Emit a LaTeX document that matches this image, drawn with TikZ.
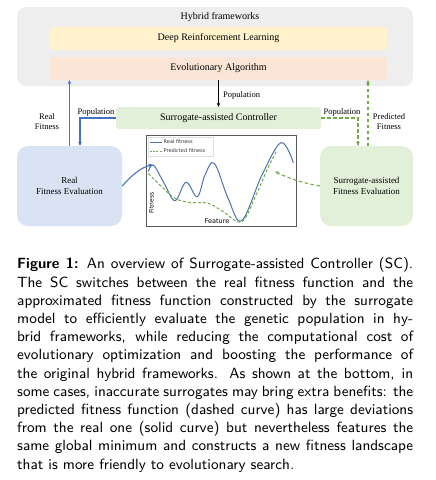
\documentclass[tikz,border=0pt]{standalone}
\usepackage{fontspec}
\setmainfont{Liberation Serif}
\newfontfamily\dejavu{DejaVu Sans}
\newfontfamily\capfont[BoldFont=lmsans10-bold.otf]{lmsans9-regular.otf}
\usetikzlibrary{arrows.meta}
\definecolor{hgray}{HTML}{EEEEEE}
\definecolor{drl}{HTML}{FFF2CC}
\definecolor{eac}{HTML}{FBE5D6}
\definecolor{scg}{HTML}{E2F0D9}
\definecolor{rfb}{HTML}{DAE3F3}
\definecolor{ablue}{HTML}{4472C4}
\definecolor{agreen}{HTML}{70AD47}
\definecolor{cblue}{HTML}{4C72B0}
\definecolor{cgreen}{HTML}{6FA84A}
\tikzset{
  bar/.style={minimum width=337pt, minimum height=23pt, rounded corners=3pt, inner sep=0pt, font=\fontsize{10}{12}\selectfont},
  evalbox/.style={minimum width=105pt, minimum height=80pt, rounded corners=11pt, inner sep=0pt, align=center, font=\fontsize{9}{10.7}\selectfont},
  lbl/.style={font=\fontsize{8.5}{10}\selectfont, inner sep=1pt, align=center},
  bluearrow/.style={draw=ablue, line width=1.1pt, -{Stealth[length=4pt,width=3.5pt]}},
  greenarrow/.style={draw=agreen, line width=1.1pt, dashed, dash pattern=on 3.5pt off 2.5pt, -{Stealth[length=4pt,width=3.5pt]}},
}
\begin{document}
\begin{tikzpicture}[x=1pt,y=-1pt]
\useasboundingbox (0,0) rectangle (436,480);
% hybrid frameworks
\node[fill=hgray, rounded corners=9pt, minimum width=396pt, minimum height=79pt, inner sep=0pt] (hf) at (215,46.5) {};
\node[font=\fontsize{10}{12}\selectfont, inner sep=0pt] (hft) at (220,17) {Hybrid frameworks};
\node[bar, fill=drl] (drl) at (218.5,38.5) {Deep Reinforcement Learning};
\node[bar, fill=eac] (ea) at (218.5,68.5) {Evolutionary Algorithm};
% controller
\node[bar, fill=scg, minimum width=205pt, minimum height=22pt] (sc) at (218.5,118) {Surrogate-assisted Controller};
\draw[-{Stealth[length=4pt,width=3.5pt]}, line width=0.9pt] (ea.south) -- (sc.north);
\node[lbl, anchor=west] (popc) at (222,95) {Population};
% evaluation boxes
\node[evalbox, fill=rfb] (rfe) at (69.5,186) {Real\\Fitness Evaluation};
\node[evalbox, fill=scg, minimum width=93pt] (sae) at (366.5,186) {Surrogate-assisted\\Fitness Evaluation};
% left connectors
\coordinate (lp) at (80,146);
\coordinate (lt) at (69.5,80);
\draw[bluearrow] (rfe.north) -- (lt);
\draw[bluearrow] (sc.west) -| (lp);
\node[lbl] (rft) at (47,121.5) {Real\\Fitness};
\node[lbl] (popl) at (96,112) {Population};
% right connectors
\coordinate (rp) at (358,146);
\coordinate (rs) at (368,146);
\coordinate (rt) at (368,80);
\draw[greenarrow] (sc.east) -| (rp);
\draw[greenarrow] (rs) -- (rt);
\node[lbl] (popr) at (342,112) {Population};
\node[lbl] (pft) at (389,121.5) {Predicted\\Fitness};
% chart
\node[draw=black!65, line width=0.6pt, minimum width=150.5pt, minimum height=90.5pt, inner sep=0pt] (chart) at (221.5,181) {};
\node[draw=black!12, line width=0.4pt, minimum width=65pt, minimum height=19pt, inner sep=0pt] (leg) at (180.5,146.5) {};
\coordinate (l1a) at (150,142); \coordinate (l1b) at (161.5,142);
\coordinate (l2a) at (150,151); \coordinate (l2b) at (161.5,151);
\draw[cblue, line width=0.8pt] (l1a) -- (l1b);
\draw[cgreen, line width=0.8pt, dash pattern=on 2pt off 1.2pt] (l2a) -- (l2b);
\node[anchor=west, inner sep=0pt, font=\dejavu\fontsize{5}{6}\selectfont, text=black!80] (lt1) at (163.5,142) {Real fitness};
\node[anchor=west, inner sep=0pt, font=\dejavu\fontsize{5}{6}\selectfont, text=black!80] (lt2) at (163.5,151) {Predicted fitness};
\node[rotate=90, inner sep=0pt, font=\dejavu\fontsize{6}{7}\selectfont] (fy) at (151.5,203) {Fitness};
\node[inner sep=0pt, font=\dejavu\fontsize{6.5}{7}\selectfont] (fx) at (217,221.5) {Feature};
\draw[cblue, line width=1pt] plot[smooth, tension=0.6] coordinates {(148.3,171.5) (153.5,165.2) (164,183) (175,200.7) (186,182.3) (197.3,196.7) (205,175) (214.3,163.3) (228,198) (241.7,220.7) (262,175) (281,142.7) (293.3,162.7)};
\draw[cgreen, line width=1pt, dash pattern=on 3pt off 2pt] plot[smooth, tension=0.6] coordinates {(148.3,173.5) (162,187) (175,198.3) (190,202.5) (208.3,203.3) (223.3,211.7) (241.7,221.7) (256,195) (267,170) (276.7,150.7)};
% curved arrows
\coordinate (cb) at (152.5,164.5);
\coordinate (cg) at (275,171.5);
\draw[draw=ablue, line width=1.1pt, -{Stealth[length=4pt,width=3.5pt]}] (rfe.east) .. controls (131,176) and (140,168) .. (cb);
\draw[greenarrow] (sae.west) .. controls (302,183) and (288,178) .. (cg);
% caption
\node[anchor=north west, text width=396pt, align=justify, inner sep=0pt, font=\capfont\fontsize{14.8}{18.2}\selectfont] (cap) at (17,257.5) {\textbf{Figure 1:} An overview of Surrogate-assisted Controller (SC).\linebreak
The SC switches between the real fitness function and the\linebreak
approximated fitness function constructed by the surrogate\linebreak
model to efficiently evaluate the genetic population in hy-\linebreak
brid frameworks, while reducing the computational cost of\linebreak
evolutionary optimization and boosting the performance of\linebreak
the original hybrid frameworks. As shown at the bottom, in\linebreak
some cases, inaccurate surrogates may bring extra benefits: the\linebreak
predicted fitness function (dashed curve) has large deviations\linebreak
from the real one (solid curve) but nevertheless features the\linebreak
same global minimum and constructs a new fitness landscape\linebreak
that is more friendly to evolutionary search.};
\end{tikzpicture}
\end{document}
